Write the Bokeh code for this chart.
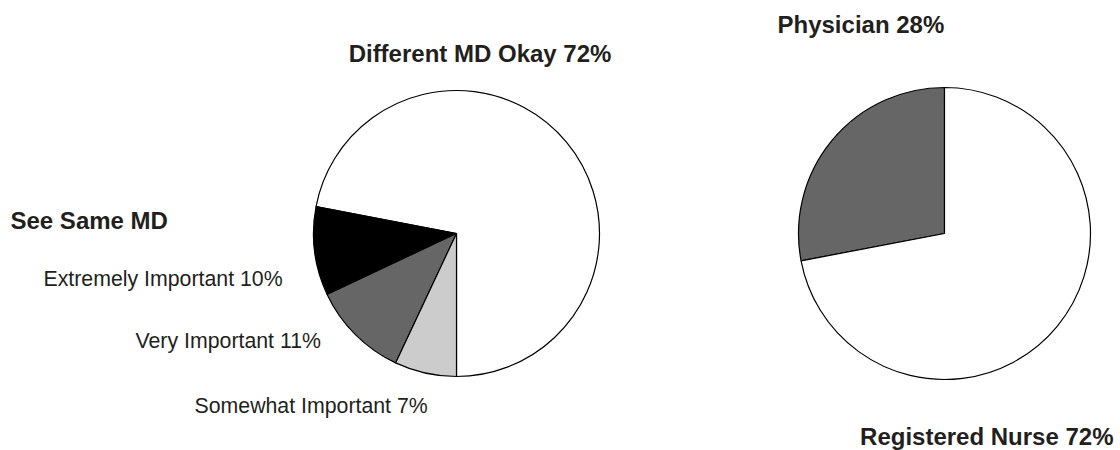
import numpy as np
from bokeh.plotting import figure
from bokeh.models import Range1d, ColumnDataSource
from bokeh.core.properties import value
from bokeh.embed import file_html
from bokeh.resources import INLINE

W, H = 1120, 450

# ---- data ----
same_md_labels = ["Different MD Okay", "Extremely Important", "Very Important", "Somewhat Important"]
same_md_values = [72, 10, 11, 7]
same_md_colors = ["#ffffff", "#000000", "#666666", "#cccccc"]
same_md_heading = "See Same MD"

provider_labels = ["Physician", "Registered Nurse"]
provider_values = [28, 72]
provider_colors = ["#666666", "#ffffff"]

TEXT_COLOR = "#231f20"
FONT = value("Liberation Sans")
SHIFT = 8  # compensate renderer baseline offset


def wedge_angles(values, start_deg):
    vals = np.array(values, dtype=float)
    cum = np.concatenate([[0], np.cumsum(vals)]) / vals.sum()
    base = np.deg2rad(start_deg)
    starts = base + 2 * np.pi * cum[:-1]
    ends = base + 2 * np.pi * cum[1:]
    return starts, ends


p = figure(width=W, height=H, x_range=Range1d(0, W), y_range=Range1d(0, H),
           output_backend="svg", toolbar_location=None, min_border=0)
p.axis.visible = False
p.grid.visible = False
p.outline_line_color = None
p.background_fill_color = "white"
p.border_fill_color = "white"


def py(y):
    return H - (y - SHIFT)


def pyc(y):
    return H - y


# left pie
s, e = wedge_angles(same_md_values, 270)
src_l = ColumnDataSource(dict(start=s, end=e, color=same_md_colors))
p.wedge(x=456, y=pyc(233), radius=143, start_angle="start", end_angle="end",
        fill_color="color", line_color="black", line_width=1.2, source=src_l)

# right pie
s2, e2 = wedge_angles(provider_values, 90)
src_r = ColumnDataSource(dict(start=s2, end=e2, color=provider_colors))
p.wedge(x=944, y=pyc(233), radius=146, start_angle="start", end_angle="end",
        fill_color="color", line_color="black", line_width=1.2, source=src_r)

# bold labels
bold_text = [f"{same_md_labels[0]} {same_md_values[0]}%", same_md_heading,
             f"{provider_labels[0]} {provider_values[0]}%"]
p.text(x=[479.5, 10, 777], y=[py(61), py(228), py(32)], text=bold_text,
       text_font=FONT, text_font_size=value("24px"), text_font_style="bold",
       text_align=["center", "left", "left"], text_baseline="alphabetic",
       text_color=TEXT_COLOR)
p.text(x=[1113], y=[py(444)], text=[f"{provider_labels[1]} {provider_values[1]}%"],
       text_font=FONT, text_font_size=value("24px"), text_font_style="bold",
       text_align="right", text_baseline="alphabetic", text_color=TEXT_COLOR)

# regular labels
reg_text = [f"{l} {v}%" for l, v in zip(same_md_labels[1:], same_md_values[1:])]
p.text(x=[43, 135, 194], y=[py(286), py(348), py(413)], text=reg_text,
       text_font=FONT, text_font_size=value("21.3px"), text_font_style="normal",
       text_align="left", text_baseline="alphabetic", text_color=TEXT_COLOR)

open("out.html", "w").write(file_html(p, INLINE))
